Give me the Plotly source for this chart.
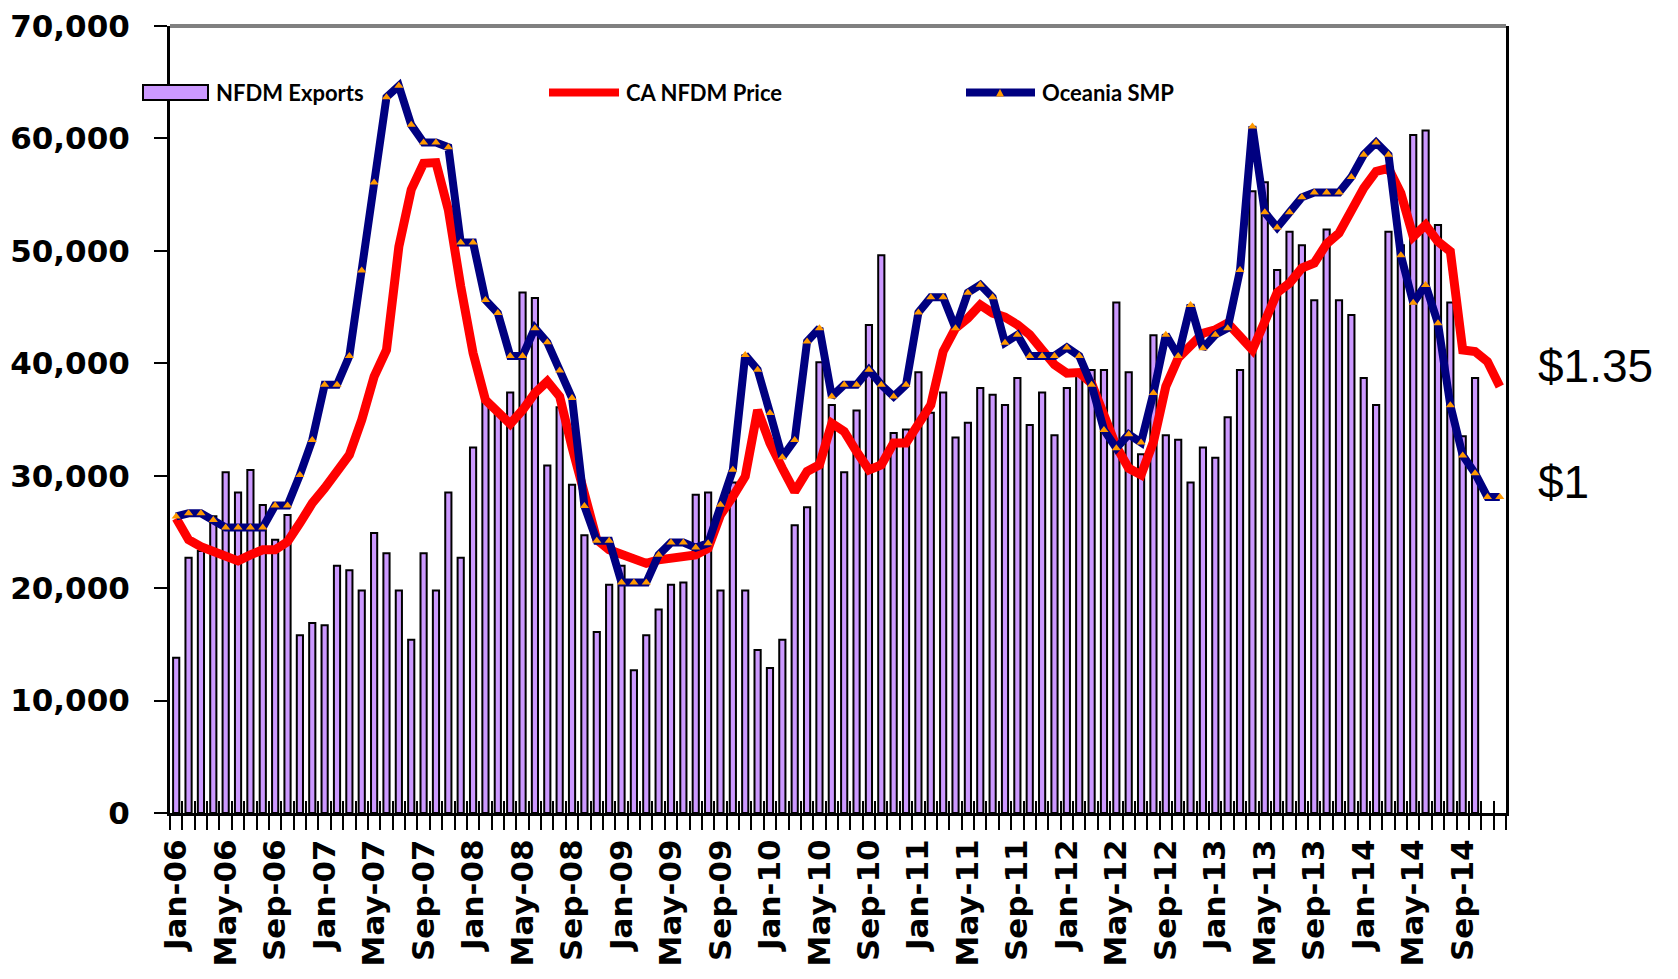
import plotly.graph_objects as go

# monthly categories Jan-06 .. Dec-14
month_names = ["Jan", "Feb", "Mar", "Apr", "May", "Jun",
               "Jul", "Aug", "Sep", "Oct", "Nov", "Dec"]
months = [f"{m}-{y:02d}" for y in range(6, 15) for m in month_names]
tick_labels = [m if i % 4 == 0 else "" for i, m in enumerate(months)]

# NFDM exports (left axis)
nfdm_exports = [
    13800, 22700, 23300, 26400, 30300, 28500, 30500, 27400, 24300, 26500, 15800, 16900,
    16700, 22000, 21600, 19800, 24900, 23100, 19800, 15400, 23100, 19800, 28500, 22700,
    32500, 36600, 35600, 37400, 46300, 45800, 30900, 36100, 29200, 24700, 16100, 20300,
    22000, 12700, 15800, 18100, 20300, 20500, 28300, 28500, 19800, 29400, 19800, 14500,
    12900, 15400, 25600, 27200, 40100, 36300, 30300, 35800, 43400, 49600, 33800, 34100,
    39200, 35600, 37400, 33400, 34700, 37800, 37200, 36300, 38700, 34500, 37400, 33600,
    37800, 39000, 39400, 39400, 45400, 39200, 31900, 42500, 33600, 33200, 29400, 32500,
    31600, 35200, 39400, 55300, 56100, 48300, 51700, 50500, 45600, 51900, 45600, 44300,
    38700, 36300, 51700, 50500, 60300, 60700, 52300, 45400, 33500, 38700, None, None,
]

# CA NFDM price, $/lb (right axis)
ca_nfdm_price = [
    0.936, 0.868, 0.846, 0.830, 0.814, 0.801, 0.820, 0.836, 0.836, 0.862, 0.921, 0.984,
    1.032, 1.081, 1.138, 1.249, 1.386, 1.471, 1.799, 1.980, 2.064, 2.066, 1.916, 1.673,
    1.461, 1.312, 1.270, 1.236, 1.280, 1.334, 1.371, 1.323, 1.162, 1.021, 0.868, 0.836,
    0.820, 0.806, 0.793, 0.804, 0.809, 0.820, 0.820, 0.841, 0.947, 1.005, 1.069, 1.280,
    1.175, 1.095, 1.021, 1.085, 1.106, 1.238, 1.212, 1.148, 1.090, 1.106, 1.175, 1.175,
    1.233, 1.296, 1.466, 1.540, 1.572, 1.614, 1.588, 1.575, 1.551, 1.519, 1.471, 1.424,
    1.397, 1.399, 1.365, 1.261, 1.164, 1.095, 1.074, 1.179, 1.355, 1.445, 1.487, 1.524,
    1.535, 1.556, 1.514, 1.471, 1.561, 1.653, 1.683, 1.731, 1.747, 1.808, 1.842, 1.916,
    1.985, 2.038, 2.048, 1.969, 1.831, 1.868, 1.815, 1.784, 1.471, 1.466, 1.434, 1.355,
]

# Oceania SMP, $/lb (right axis)
oceania_smp = [
    0.942, 0.952, 0.952, 0.931, 0.907, 0.907, 0.907, 0.907, 0.977, 0.977, 1.074, 1.185,
    1.360, 1.360, 1.452, 1.723, 2.003, 2.274, 2.310, 2.186, 2.130, 2.130, 2.115, 1.812,
    1.812, 1.630, 1.588, 1.452, 1.452, 1.540, 1.495, 1.406, 1.318, 0.975, 0.865, 0.865,
    0.732, 0.732, 0.732, 0.820, 0.859, 0.859, 0.843, 0.857, 0.979, 1.090, 1.455, 1.408,
    1.271, 1.130, 1.185, 1.498, 1.540, 1.323, 1.360, 1.360, 1.408, 1.360, 1.323, 1.360,
    1.590, 1.638, 1.638, 1.540, 1.653, 1.678, 1.638, 1.494, 1.519, 1.452, 1.452, 1.452,
    1.479, 1.452, 1.360, 1.217, 1.159, 1.203, 1.177, 1.334, 1.519, 1.452, 1.614, 1.476,
    1.519, 1.540, 1.725, 2.181, 1.908, 1.860, 1.908, 1.956, 1.971, 1.971, 1.971, 2.020,
    2.091, 2.130, 2.091, 1.772, 1.621, 1.677, 1.556, 1.295, 1.136, 1.079, 1.004, 1.004,
]

y_ticks = list(range(0, 70001, 10000))

# page is 1678x979, the browser body adds an 8px margin around the figure
PAGE_W, PAGE_H, OFF = 1678, 979, 8
# plot box in page pixels
L, R, T, B = 170, 1506, 26, 813


def px_x(x):
    return (x - L) / (R - L)


def px_y(y):
    return (B - y) / (B - T)


fig = go.Figure()

fig.add_trace(go.Bar(
    x=months, y=nfdm_exports, name="NFDM Exports", width=0.5,
    marker=dict(color="#CC99FF", line=dict(color="black", width=2)),
))
fig.add_trace(go.Scatter(
    x=months, y=ca_nfdm_price, name="CA NFDM Price", mode="lines",
    line=dict(color="#FF0000", width=9), xaxis="x2", yaxis="y2",
))
fig.add_trace(go.Scatter(
    x=months, y=oceania_smp, name="Oceania SMP", mode="lines+markers",
    line=dict(color="#000080", width=8),
    marker=dict(symbol="triangle-up", color="#FF9900", size=8),
    xaxis="x2", yaxis="y2",
))

# hand-drawn legend to get Excel-like wide keys
legend_font = dict(family="Lato", size=22, color="black", weight="bold")
ly = 92.5
tri = "M {},{} L {},{} L {},{} Z".format(px_x(996), px_y(96.5), px_x(1004), px_y(96.5),
                                        px_x(1000), px_y(89))
shapes = [
    dict(type="line", xref="paper", yref="paper", x0=0, x1=1, y0=1, y1=1,
         line=dict(color="#808080", width=4)),
    dict(type="rect", xref="paper", yref="paper",
         x0=px_x(143), x1=px_x(208), y0=px_y(100), y1=px_y(85),
         fillcolor="#CC99FF", line=dict(color="black", width=2)),
    dict(type="line", xref="paper", yref="paper",
         x0=px_x(549), x1=px_x(619), y0=px_y(ly), y1=px_y(ly),
         line=dict(color="#FF0000", width=8)),
    dict(type="line", xref="paper", yref="paper",
         x0=px_x(966), x1=px_x(1035), y0=px_y(ly), y1=px_y(ly),
         line=dict(color="#000080", width=8)),
    dict(type="path", xref="paper", yref="paper", path=tri,
         fillcolor="#FF9900", line=dict(width=0)),
]
annotations = [
    dict(text="NFDM Exports", x=px_x(214), y=px_y(ly)),
    dict(text="CA NFDM Price", x=px_x(624), y=px_y(ly)),
    dict(text="Oceania SMP", x=px_x(1040), y=px_y(ly)),
]
annotations = [dict(a, xref="paper", yref="paper", xanchor="left", yanchor="middle",
                    showarrow=False, font=legend_font) for a in annotations]
# end-of-series price labels
for label, yv in [("$1.35", 1.42), ("$1", 1.05)]:
    annotations.append(dict(text=label, x=px_x(1536), y=yv, xref="paper", yref="y2",
                            xanchor="left", yanchor="middle", showarrow=False,
                            font=dict(family="Liberation Sans", size=46, color="black")))

fig.update_layout(
    width=PAGE_W - 2 * OFF, height=PAGE_H - 2 * OFF,
    template="none",
    margin=dict(l=L - OFF, r=PAGE_W - OFF - R, t=T - OFF, b=PAGE_H - OFF - B, pad=0),
    paper_bgcolor="white", plot_bgcolor="white",
    showlegend=False,
    shapes=shapes, annotations=annotations,
    xaxis=dict(
        type="category", categoryorder="array", categoryarray=months,
        range=[-0.5, len(months) - 0.5],
        tickmode="array", tickvals=months, ticktext=tick_labels,
        tickson="boundaries", ticks="outside", ticklen=14, tickwidth=2, tickcolor="black",
        tickangle=-90, ticklabelstandoff=11, ticklabeloverflow="allow",
        tickfont=dict(family="DejaVu Sans", size=31, color="black", weight="bold"),
        showline=True, linecolor="black", linewidth=3,
        showgrid=False, zeroline=False,
    ),
    xaxis2=dict(
        overlaying="x", matches="x", anchor="y", side="bottom",
        type="category", categoryorder="array", categoryarray=months,
        tickmode="array", tickvals=months, tickson="boundaries",
        ticks="inside", ticklen=12, tickwidth=2, tickcolor="black",
        showticklabels=False, showline=False, showgrid=False, zeroline=False,
    ),
    yaxis=dict(
        range=[0, 70000], tickmode="array", tickvals=y_ticks, tickformat=",",
        ticks="outside", ticklen=13, tickwidth=2, tickcolor="black",
        ticklabelstandoff=18, ticklabeloverflow="allow",
        tickfont=dict(family="DejaVu Sans", size=31, color="black", weight="bold"),
        showline=True, linecolor="black", linewidth=3,
        showgrid=False, zeroline=False,
    ),
    yaxis2=dict(
        overlaying="y", side="right", anchor="x", range=[0, 2.5],
        showticklabels=False, ticks="", showline=True, linecolor="black", linewidth=3,
        showgrid=False, zeroline=False,
    ),
    yaxis3=dict(
        overlaying="y", matches="y", side="left", anchor="x",
        tickmode="array", tickvals=y_ticks,
        ticks="inside", ticklen=15, tickwidth=2, tickcolor="black",
        showticklabels=False, showline=False, showgrid=False, zeroline=False,
    ),
)

fig.write_html("out.html")
